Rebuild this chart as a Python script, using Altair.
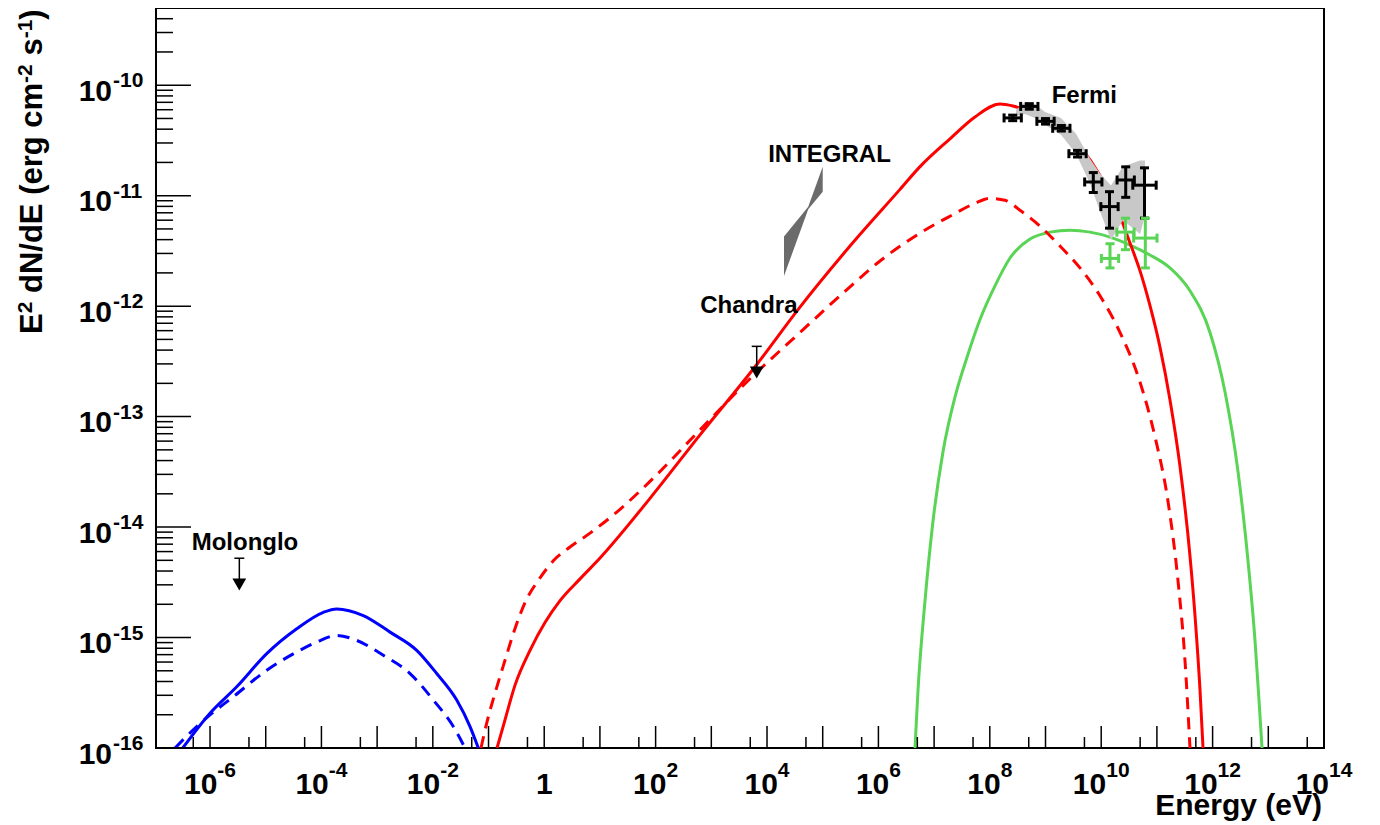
import altair as alt
import numpy as np
import pandas as pd

# ---------------- data (log10 of energy in eV / of E^2 dN/dE) ----------------
blue_solid_logE = [-6.49, -6.0, -5.521, -4.982, -4.443, -3.966, -3.725, -3.248, -2.768, -2.289, -1.930, -1.571, -1.332, -1.183]
blue_solid_logF = [-16.0, -15.685, -15.446, -15.146, -14.921, -14.772, -14.741, -14.801, -14.951, -15.116, -15.326, -15.566, -15.806, -16.0]

blue_dash_logE = [-6.628, -6.239, -6.0, -5.582, -4.982, -4.443, -4.084, -3.725, -3.366, -2.889, -2.409, -1.991, -1.632, -1.422]
blue_dash_logF = [-16.0, -15.806, -15.701, -15.536, -15.296, -15.131, -15.041, -14.981, -15.026, -15.161, -15.326, -15.566, -15.806, -16.0]

red_solid_logE = [-0.847, -0.704, -0.524, -0.255, 0.014, 0.284, 0.643, 1.002, 1.899, 2.797, 3.820, 4.557, 5.490,
                  6.388, 6.747, 7.285, 7.734, 8.183, 8.416, 8.722, 8.991, 9.260, 9.619, 9.978, 10.337, 10.517,
                  10.697, 10.876, 11.056, 11.235, 11.415, 11.594, 11.684, 11.774, 11.828]
red_solid_logF = [-16.0, -15.745, -15.431, -15.116, -14.864, -14.666, -14.469, -14.280, -13.740, -13.165, -12.526,
                  -12.031, -11.456, -10.943, -10.737, -10.485, -10.287, -10.170, -10.188, -10.242, -10.305, -10.386,
                  -10.557, -10.817, -11.186, -11.429, -11.681, -11.996, -12.373, -12.850, -13.452, -14.262, -14.801,
                  -15.476, -16.0]

red_dash_logE = [-1.135, -1.027, -0.883, -0.704, -0.524, -0.345, -0.075, 0.194, 0.463, 0.822, 1.361, 1.899, 2.797,
                 3.641, 4.593, 5.490, 6.029, 6.747, 7.285, 7.734, 8.004, 8.273, 8.542, 8.901, 9.260, 9.619, 9.978,
                 10.337, 10.697, 10.966, 11.199, 11.379, 11.504, 11.594]
red_dash_logF = [-16.0, -15.763, -15.503, -15.206, -14.918, -14.684, -14.460, -14.289, -14.181, -14.055, -13.839,
                 -13.587, -13.120, -12.684, -12.238, -11.825, -11.591, -11.339, -11.186, -11.069, -11.024, -11.042,
                 -11.132, -11.276, -11.456, -11.654, -11.906, -12.238, -12.688, -13.183, -13.767, -14.487, -15.206,
                 -16.0]

green_logE = [6.657, 6.711, 6.837, 6.980, 7.160, 7.375, 7.591, 7.824, 8.093, 8.363, 8.722, 9.081, 9.440, 9.799,
              10.158, 10.517, 10.876, 11.235, 11.594, 11.953, 12.223, 12.456, 12.636, 12.761, 12.833, 12.887]
green_logF = [-16.0, -15.476, -14.666, -13.947, -13.317, -12.823, -12.463, -12.121, -11.816, -11.564, -11.393,
              -11.330, -11.312, -11.330, -11.375, -11.447, -11.537, -11.654, -11.861, -12.238, -12.778, -13.497,
              -14.307, -15.026, -15.566, -16.0]

# Fermi butterfly band
band_logE = [8.470, 8.632, 8.811, 8.991, 9.278, 9.548, 9.799, 9.978, 10.176, 10.391, 10.697, 10.786]
band_logF_hi = [-10.224, -10.152, -10.170, -10.242, -10.296, -10.440, -10.665, -10.799, -10.907, -10.736, -10.682, -10.682]
band_logF_lo = [-10.278, -10.260, -10.296, -10.359, -10.449, -10.620, -10.889, -11.141, -11.402, -11.222, -11.348, -11.186]

# INTEGRAL bow-tie
integral_logE = [4.305, 4.740, 5.0]
integral_logF_hi = [-11.369, -11.100, -10.739]
integral_logF_lo = [-11.728, -11.122, -10.964]

# Fermi points
fermi_logE = [8.411, 8.709, 9.000, 9.284, 9.575, 9.858, 10.149, 10.440, 10.777]
fermi_logF = [-10.296, -10.192, -10.327, -10.390, -10.620, -10.876, -11.099, -10.858, -10.905]
fermi_dlogE = [0.155, 0.155, 0.155, 0.155, 0.155, 0.155, 0.155, 0.155, 0.21]
fermi_logF_hi = [-10.271, -10.167, -10.302, -10.365, -10.590, -10.791, -10.964, -10.739, -10.748]
fermi_logF_lo = [-10.321, -10.217, -10.352, -10.415, -10.650, -10.971, -11.294, -11.015, -11.203]

# green (Cherenkov) points
tev_logE = [10.158, 10.436, 10.792]
tev_logF = [-11.568, -11.330, -11.384]
tev_dlogE = [0.155, 0.155, 0.21]
tev_logF_hi = [-11.435, -11.204, -11.204]
tev_logF_lo = [-11.654, -11.489, -11.654]

# upper limits (Molonglo, Chandra)
ul_logE = [-5.474, 3.815]
ul_logF = [-14.282, -12.364]
ul_arrow_logF = [-14.520, -12.601]

# annotations
label_text = ["Molonglo", "Chandra", "INTEGRAL", "Fermi"]
label_logE = [-6.33, 2.80, 4.02, 9.11]
label_logF = [-14.21, -12.065, -10.694, -10.164]

# axes
x_major = [10.0 ** k for k in range(-6, 15)]
x_minor = [5 * 10.0 ** k for k in range(-7, 14)]
y_major = [10.0 ** k for k in range(-16, -9)]
y_minor = [m * 10.0 ** k for k in range(-16, -10) for m in range(2, 10)] + [2e-10, 3e-10, 4e-10]
x_label_pow = [-6, -4, -2, 0, 2, 4, 6, 8, 10, 12, 14]
y_label_pow = [-16, -15, -14, -13, -12, -11, -10]

# ---------------- chart ----------------
FONT = "Liberation Sans"
W, H = 1168, 740
BASE_FS, EXP_FS = 30, 21
ADV = {'E': 0.667, '2': 0.556, ' ': 0.278, 'd': 0.611, 'N': 0.722, '/': 0.278, '(': 0.333, 'e': 0.556,
       'r': 0.389, 'g': 0.611, 'c': 0.556, 'm': 0.889, '-': 0.333, 's': 0.556, ')': 0.333}


def tw(s, fs):
    return sum(ADV.get(ch, 0.556) for ch in s) * fs


def L(a):
    return 10.0 ** np.asarray(a, dtype=float)


xs = alt.Scale(type="log", domain=[10 ** -6.97, 1e14], nice=False)
ys = alt.Scale(type="log", domain=[1e-16, 5e-10], nice=False)


def X(f):
    return alt.X(f, type="quantitative", scale=xs, axis=None)


def Y(f):
    return alt.Y(f, type="quantitative", scale=ys, axis=None)


def curve(logE, logF, color, dashed=False):
    d = pd.DataFrame({"E": L(logE), "F": L(logF)})
    kw = dict(color=color, strokeWidth=3, clip=True, interpolate="monotone")
    if dashed:
        kw["strokeDash"] = [12, 8]
    return alt.Chart(d).mark_line(**kw).encode(x=X("E"), y=Y("F"))


def errbars(logE, logF, dlogE, flo, fhi, color, width, cap):
    lE = np.asarray(logE)
    dE = np.asarray(dlogE)
    d = pd.DataFrame({"E": L(lE), "F": L(logF), "Elo": L(lE - dE), "Ehi": L(lE + dE),
                      "Flo": L(flo), "Fhi": L(fhi)})
    b = alt.Chart(d)
    return [
        b.mark_rule(color=color, strokeWidth=width).encode(x=X("Elo"), x2=alt.X2("Ehi"), y=Y("F")),
        b.mark_rule(color=color, strokeWidth=width).encode(x=X("E"), y=Y("Flo"), y2=alt.Y2("Fhi")),
        b.mark_tick(color=color, orient="vertical", size=cap, thickness=width, opacity=1).encode(x=X("Elo"), y=Y("F")),
        b.mark_tick(color=color, orient="vertical", size=cap, thickness=width, opacity=1).encode(x=X("Ehi"), y=Y("F")),
        b.mark_tick(color=color, orient="horizontal", size=cap, thickness=width, opacity=1).encode(x=X("E"), y=Y("Flo")),
        b.mark_tick(color=color, orient="horizontal", size=cap, thickness=width, opacity=1).encode(x=X("E"), y=Y("Fhi")),
    ]


layers = []

# model curves
layers += [
    curve(blue_dash_logE, blue_dash_logF, "#0000ff", True),
    curve(blue_solid_logE, blue_solid_logF, "#0000ff"),
    curve(green_logE, green_logF, "#59d454"),
    curve(red_dash_logE, red_dash_logF, "#ff0000", True),
    curve(red_solid_logE, red_solid_logF, "#ff0000"),
]

# Fermi band
band_df = pd.DataFrame({"E": L(band_logE), "lo": L(band_logF_lo), "hi": L(band_logF_hi)})
layers.append(alt.Chart(band_df).mark_area(color="#c8c8c8", opacity=1, orient="vertical")
              .encode(x=X("E"), y=Y("lo"), y2=alt.Y2("hi")))

# INTEGRAL bow-tie
int_df = pd.DataFrame({"E": L(integral_logE), "lo": L(integral_logF_lo), "hi": L(integral_logF_hi)})
layers.append(alt.Chart(int_df).mark_area(color="#6b6b6b", opacity=1, orient="vertical")
              .encode(x=X("E"), y=Y("lo"), y2=alt.Y2("hi")))

# data points
layers += errbars(fermi_logE, fermi_logF, fermi_dlogE, fermi_logF_lo, fermi_logF_hi, "black", 3, 9)
layers += errbars(tev_logE, tev_logF, tev_dlogE, tev_logF_lo, tev_logF_hi, "#59d454", 3, 9)

# upper limits
ul_df = pd.DataFrame({"E": L(ul_logE), "F": L(ul_logF), "Fa": L(ul_arrow_logF)})
ub = alt.Chart(ul_df)
layers += [
    ub.mark_rule(color="black", strokeWidth=1.5).encode(x=X("E"), y=Y("F"), y2=alt.Y2("Fa")),
    ub.mark_tick(color="black", orient="horizontal", size=10, thickness=1.5, opacity=1).encode(x=X("E"), y=Y("F")),
    ub.mark_point(shape="triangle-down", filled=True, size=190, color="black", opacity=1).encode(x=X("E"), y=Y("Fa")),
]

# annotations
lab_df = pd.DataFrame({"E": L(label_logE), "F": L(label_logF), "t": label_text})
layers.append(alt.Chart(lab_df).mark_text(align="left", baseline="alphabetic", font=FONT, fontWeight="bold",
                                          fontSize=24, color="black")
              .encode(x=X("E"), y=Y("F"), text="t:N"))

# ticks
layers += [
    alt.Chart(pd.DataFrame({"E": x_major})).mark_rule(color="black", strokeWidth=1.5)
    .encode(x=X("E"), y=alt.value(H), y2=alt.value(H - 22)),
    alt.Chart(pd.DataFrame({"E": x_minor})).mark_rule(color="black", strokeWidth=1.5)
    .encode(x=X("E"), y=alt.value(H), y2=alt.value(H - 11)),
    alt.Chart(pd.DataFrame({"F": y_major})).mark_rule(color="black", strokeWidth=1.5)
    .encode(y=Y("F"), x=alt.value(0), x2=alt.value(35)),
    alt.Chart(pd.DataFrame({"F": y_minor})).mark_rule(color="black", strokeWidth=1.5)
    .encode(y=Y("F"), x=alt.value(0), x2=alt.value(17)),
]

txt = dict(baseline="alphabetic", font=FONT, fontWeight="bold", color="black")

# x tick labels: 10^n, centred as a whole on the tick
base_w = tw("10", BASE_FS)
groups = {}
for p in x_label_pow:
    if p == 0:
        continue
    s = str(p)
    groups.setdefault(round(tw(s, EXP_FS), 2), []).append(p)
for w_exp, pows in groups.items():
    dx = (base_w - w_exp) / 2
    d = pd.DataFrame({"E": [10.0 ** p for p in pows], "exp": [str(p) for p in pows]})
    layers.append(alt.Chart(d).mark_text(text="10", align="right", dx=dx, fontSize=BASE_FS, **txt)
                  .encode(x=X("E"), y=alt.value(H + 46)))
    layers.append(alt.Chart(d).mark_text(align="left", dx=dx, fontSize=EXP_FS, **txt)
                  .encode(x=X("E"), y=alt.value(H + 29), text="exp:N"))
one_df = pd.DataFrame({"E": [10.0 ** p for p in x_label_pow if p == 0], "t": ["1"]})
layers.append(alt.Chart(one_df).mark_text(align="center", fontSize=BASE_FS, **txt)
              .encode(x=X("E"), y=alt.value(H + 46), text="t:N"))

# y tick labels
ylab = pd.DataFrame({"F": [10.0 ** p for p in y_label_pow], "exp": [str(p) for p in y_label_pow]})
layers.append(alt.Chart(ylab).mark_text(text="10", align="right", dy=15.7, fontSize=BASE_FS, **txt)
              .encode(y=Y("F"), x=alt.value(-44)))
layers.append(alt.Chart(ylab).mark_text(align="left", dy=2, fontSize=EXP_FS, **txt)
              .encode(y=Y("F"), x=alt.value(-43), text="exp:N"))

# x axis title
layers.append(alt.Chart(pd.DataFrame({"t": ["Energy (eV)"]}))
              .mark_text(align="right", fontSize=30, **txt)
              .encode(x=alt.value(W - 2), y=alt.value(H + 67), text="t:N"))

# y axis title (rotated, with superscripts); spaces handled as offsets
TB = 31
pieces = [("E", TB, 0, 0.0), ("2", EXP_FS, -10, 0.0), ("dN/dE (erg cm", TB, 0, tw(" ", TB)),
          ("-2", EXP_FS, -10, 0.0), ("s", TB, 0, tw(" ", TB)), ("-1", EXP_FS, -10, 0.0), (")", TB, 0, 0.0)]
off = 0.0
for s, fs, rise, gap in pieces:
    off += gap
    layers.append(alt.Chart(pd.DataFrame({"t": [s]}))
                  .mark_text(align="left", angle=270, dx=off, dy=rise, fontSize=fs, **txt)
                  .encode(x=alt.value(-114), y=alt.value(326), text="t:N"))
    off += tw(s, fs)

chart = (
    alt.layer(*layers)
    .properties(width=W, height=H, autosize=alt.AutoSizeParams(type="none"),
                padding={"left": 148, "top": 0, "right": 40, "bottom": 76},
                background="white")
    .configure_view(stroke="black", strokeWidth=2)
)

chart.save("out.html", embed_options={"renderer": "svg", "actions": False})
